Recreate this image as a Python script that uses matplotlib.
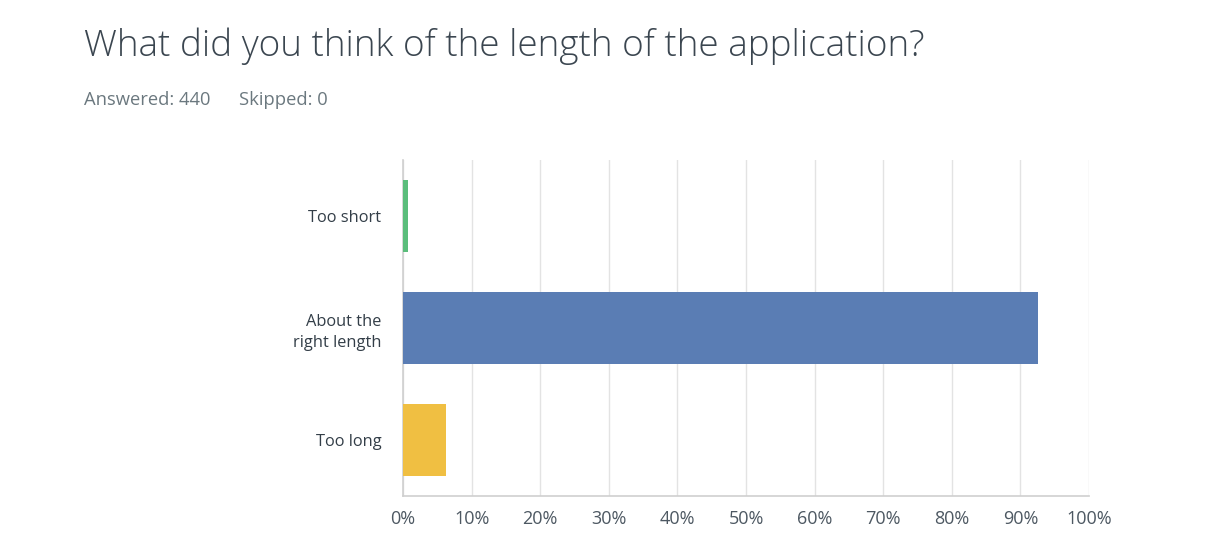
import matplotlib
matplotlib.use("Agg")
import matplotlib.pyplot as plt
from matplotlib.ticker import FixedLocator

categories = ["Too short", "About the\nright length", "Too long"]
percentages = [0.8, 92.6, 6.3]
bar_colors = ["#5bbd7b", "#5a7db4", "#f0bf42"]
x_ticks = [0, 10, 20, 30, 40, 50, 60, 70, 80, 90, 100]
x_tick_labels = [f"{t}%" for t in x_ticks]
title = "What did you think of the length of the application?"
subtitle_answered = "Answered: 440"
subtitle_skipped = "Skipped: 0"

plt.rcParams['font.family'] = ['Open Sans', 'DejaVu Sans']

fig = plt.figure(figsize=(12.12, 5.52), dpi=100)
ax = fig.add_axes([403/1212, 1-496/552, (1089-403)/1212, (496-160)/552])

ypos = list(range(len(categories)))
ax.barh(ypos, percentages, height=0.65, color=bar_colors, zorder=3)
ax.set_ylim(len(categories)-0.5, -0.5)
ax.set_xlim(0, 100)
ax.xaxis.set_major_locator(FixedLocator(x_ticks))
ax.set_xticklabels(x_tick_labels)
ax.set_yticks(ypos)
ax.set_yticklabels(categories, ha='right', multialignment='right', linespacing=1.45)

ax.grid(axis='x', color='#e3e3e3', linewidth=1, zorder=0)
for s in ['top', 'right']:
    ax.spines[s].set_visible(False)
for s in ['left', 'bottom']:
    ax.spines[s].set_color('#cfcfcf')
    ax.spines[s].set_linewidth(1.2)
ax.tick_params(axis='y', length=0, colors='#333e48', labelsize=11.8, pad=15.5)
ax.tick_params(axis='x', length=0, colors='#4d5862', labelsize=13, pad=10)

fig.text(84/1212, 1-46/552, title, fontsize=26.6, color='#3b4650',
         fontweight='light', va='center', ha='left')
fig.text(84/1212, 1-100/552, subtitle_answered, fontsize=13.2, color='#6b787f',
         va='center', ha='left')
fig.text(239/1212, 1-100/552, subtitle_skipped, fontsize=13.2, color='#6b787f',
         va='center', ha='left')

fig.savefig("out.png", dpi=100, facecolor='white')
